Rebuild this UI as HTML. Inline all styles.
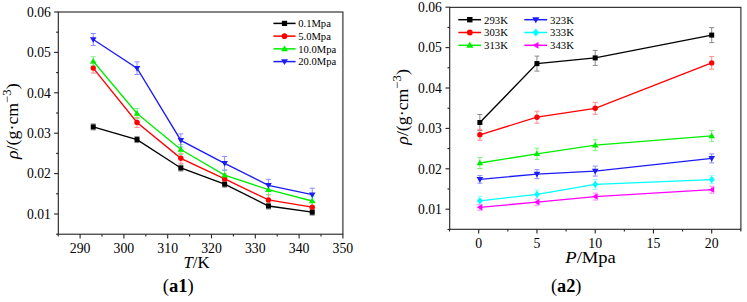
<!DOCTYPE html>
<html><head><meta charset="utf-8"><style>
html,body{margin:0;padding:0;background:#fff;}
body{width:747px;height:302px;overflow:hidden;}
svg{display:block;font-family:"Liberation Serif", serif;}
</style></head><body>
<svg width="747" height="302" viewBox="0 0 747 302">
<rect width="747" height="302" fill="#fff"/>
<rect x="58.3" y="12" width="284.6" height="222.2" fill="none" stroke="#222" stroke-width="1.1"/><path d="M54.1 214H58.3" stroke="#222" stroke-width="1.1"/><path d="M54.1 173.6H58.3" stroke="#222" stroke-width="1.1"/><path d="M54.1 133.2H58.3" stroke="#222" stroke-width="1.1"/><path d="M54.1 92.8H58.3" stroke="#222" stroke-width="1.1"/><path d="M54.1 52.4H58.3" stroke="#222" stroke-width="1.1"/><path d="M54.1 12H58.3" stroke="#222" stroke-width="1.1"/><path d="M56.1 234.2H58.3" stroke="#222" stroke-width="1.1"/><path d="M56.1 193.8H58.3" stroke="#222" stroke-width="1.1"/><path d="M56.1 153.4H58.3" stroke="#222" stroke-width="1.1"/><path d="M56.1 113H58.3" stroke="#222" stroke-width="1.1"/><path d="M56.1 72.6H58.3" stroke="#222" stroke-width="1.1"/><path d="M56.1 32.2H58.3" stroke="#222" stroke-width="1.1"/><path d="M80.1 234.2V238.4" stroke="#222" stroke-width="1.1"/><path d="M123.9 234.2V238.4" stroke="#222" stroke-width="1.1"/><path d="M167.7 234.2V238.4" stroke="#222" stroke-width="1.1"/><path d="M211.5 234.2V238.4" stroke="#222" stroke-width="1.1"/><path d="M255.3 234.2V238.4" stroke="#222" stroke-width="1.1"/><path d="M299.1 234.2V238.4" stroke="#222" stroke-width="1.1"/><path d="M342.9 234.2V238.4" stroke="#222" stroke-width="1.1"/><path d="M58.2 234.2V236.4" stroke="#222" stroke-width="1.1"/><path d="M102 234.2V236.4" stroke="#222" stroke-width="1.1"/><path d="M145.8 234.2V236.4" stroke="#222" stroke-width="1.1"/><path d="M189.6 234.2V236.4" stroke="#222" stroke-width="1.1"/><path d="M233.4 234.2V236.4" stroke="#222" stroke-width="1.1"/><path d="M277.2 234.2V236.4" stroke="#222" stroke-width="1.1"/><path d="M321 234.2V236.4" stroke="#222" stroke-width="1.1"/>
<path d="M93.24 123.9V129.9M90.74 123.9H95.74M90.74 129.9H95.74" stroke="#8a8a8a" stroke-width="1" fill="none"/><path d="M137.04 136.6V142.6M134.54 136.6H139.54M134.54 142.6H139.54" stroke="#8a8a8a" stroke-width="1" fill="none"/><path d="M180.84 165V171M178.34 165H183.34M178.34 171H183.34" stroke="#8a8a8a" stroke-width="1" fill="none"/><path d="M224.64 181.2V187.2M222.14 181.2H227.14M222.14 187.2H227.14" stroke="#8a8a8a" stroke-width="1" fill="none"/><path d="M268.44 203V209M265.94 203H270.94M265.94 209H270.94" stroke="#8a8a8a" stroke-width="1" fill="none"/><path d="M312.24 209.2V215.2M309.74 209.2H314.74M309.74 215.2H314.74" stroke="#8a8a8a" stroke-width="1" fill="none"/>
<path d="M93.24 63.1V73.1M90.74 63.1H95.74M90.74 73.1H95.74" stroke="#ff8c8c" stroke-width="1" fill="none"/><path d="M137.04 117.4V127.4M134.54 117.4H139.54M134.54 127.4H139.54" stroke="#ff8c8c" stroke-width="1" fill="none"/><path d="M180.84 153.3V163.3M178.34 153.3H183.34M178.34 163.3H183.34" stroke="#ff8c8c" stroke-width="1" fill="none"/><path d="M224.64 173.9V183.9M222.14 173.9H227.14M222.14 183.9H227.14" stroke="#ff8c8c" stroke-width="1" fill="none"/><path d="M268.44 194.9V204.9M265.94 194.9H270.94M265.94 204.9H270.94" stroke="#ff8c8c" stroke-width="1" fill="none"/><path d="M312.24 202.2V212.2M309.74 202.2H314.74M309.74 212.2H314.74" stroke="#ff8c8c" stroke-width="1" fill="none"/>
<path d="M93.24 56.8V65.8M90.74 56.8H95.74M90.74 65.8H95.74" stroke="#7cef7c" stroke-width="1" fill="none"/><path d="M137.04 108.5V118.5M134.54 108.5H139.54M134.54 118.5H139.54" stroke="#7cef7c" stroke-width="1" fill="none"/><path d="M180.84 144.5V154.5M178.34 144.5H183.34M178.34 154.5H183.34" stroke="#7cef7c" stroke-width="1" fill="none"/><path d="M224.64 170.2V180.2M222.14 170.2H227.14M222.14 180.2H227.14" stroke="#7cef7c" stroke-width="1" fill="none"/><path d="M268.44 184.6V194.6M265.94 184.6H270.94M265.94 194.6H270.94" stroke="#7cef7c" stroke-width="1" fill="none"/><path d="M312.24 196V206M309.74 196H314.74M309.74 206H314.74" stroke="#7cef7c" stroke-width="1" fill="none"/>
<path d="M93.24 33.5V45.5M90.74 33.5H95.74M90.74 45.5H95.74" stroke="#8c8cff" stroke-width="1" fill="none"/><path d="M137.04 61.9V74.5M134.54 61.9H139.54M134.54 74.5H139.54" stroke="#8c8cff" stroke-width="1" fill="none"/><path d="M180.84 133.9V146.9M178.34 133.9H183.34M178.34 146.9H183.34" stroke="#8c8cff" stroke-width="1" fill="none"/><path d="M224.64 156.5V170.1M222.14 156.5H227.14M222.14 170.1H227.14" stroke="#8c8cff" stroke-width="1" fill="none"/><path d="M268.44 179.3V191.3M265.94 179.3H270.94M265.94 191.3H270.94" stroke="#8c8cff" stroke-width="1" fill="none"/><path d="M312.24 188.2V201.2M309.74 188.2H314.74M309.74 201.2H314.74" stroke="#8c8cff" stroke-width="1" fill="none"/>
<polyline points="93.24,126.9 137.04,139.6 180.84,168 224.64,184.2 268.44,206 312.24,212.2" stroke="#000000" stroke-width="1.35" fill="none"/>
<polyline points="93.24,68.1 137.04,122.4 180.84,158.3 224.64,178.9 268.44,199.9 312.24,207.2" stroke="#ff0000" stroke-width="1.35" fill="none"/>
<polyline points="93.24,61.3 137.04,113.5 180.84,149.5 224.64,175.2 268.44,189.6 312.24,201" stroke="#00ee00" stroke-width="1.35" fill="none"/>
<polyline points="93.24,39.5 137.04,68.2 180.84,140.4 224.64,163.3 268.44,185.3 312.24,194.7" stroke="#1c1cf6" stroke-width="1.35" fill="none"/>
<rect x="90.74" y="124.4" width="5" height="5" fill="#000000"/><rect x="134.54" y="137.1" width="5" height="5" fill="#000000"/><rect x="178.34" y="165.5" width="5" height="5" fill="#000000"/><rect x="222.14" y="181.7" width="5" height="5" fill="#000000"/><rect x="265.94" y="203.5" width="5" height="5" fill="#000000"/><rect x="309.74" y="209.7" width="5" height="5" fill="#000000"/>
<circle cx="93.24" cy="68.1" r="2.7" fill="#ff0000"/><circle cx="137.04" cy="122.4" r="2.7" fill="#ff0000"/><circle cx="180.84" cy="158.3" r="2.7" fill="#ff0000"/><circle cx="224.64" cy="178.9" r="2.7" fill="#ff0000"/><circle cx="268.44" cy="199.9" r="2.7" fill="#ff0000"/><circle cx="312.24" cy="207.2" r="2.7" fill="#ff0000"/>
<path d="M93.24 58L96.54 63.6L89.94 63.6Z" fill="#00ee00"/><path d="M137.04 110.2L140.34 115.8L133.74 115.8Z" fill="#00ee00"/><path d="M180.84 146.2L184.14 151.8L177.54 151.8Z" fill="#00ee00"/><path d="M224.64 171.9L227.94 177.5L221.34 177.5Z" fill="#00ee00"/><path d="M268.44 186.3L271.74 191.9L265.14 191.9Z" fill="#00ee00"/><path d="M312.24 197.7L315.54 203.3L308.94 203.3Z" fill="#00ee00"/>
<path d="M89.94 37.2L96.54 37.2L93.24 42.8Z" fill="#1c1cf6"/><path d="M133.74 65.9L140.34 65.9L137.04 71.5Z" fill="#1c1cf6"/><path d="M177.54 138.1L184.14 138.1L180.84 143.7Z" fill="#1c1cf6"/><path d="M221.34 161L227.94 161L224.64 166.6Z" fill="#1c1cf6"/><path d="M265.14 183L271.74 183L268.44 188.6Z" fill="#1c1cf6"/><path d="M308.94 192.4L315.54 192.4L312.24 198Z" fill="#1c1cf6"/>
<text transform="translate(50.8 218.75) scale(1 1.03)" font-size="13.6" text-anchor="end">0.01</text>
<text transform="translate(50.8 178.35) scale(1 1.03)" font-size="13.6" text-anchor="end">0.02</text>
<text transform="translate(50.8 137.95) scale(1 1.03)" font-size="13.6" text-anchor="end">0.03</text>
<text transform="translate(50.8 97.55) scale(1 1.03)" font-size="13.6" text-anchor="end">0.04</text>
<text transform="translate(50.8 57.15) scale(1 1.03)" font-size="13.6" text-anchor="end">0.05</text>
<text transform="translate(50.8 16.75) scale(1 1.03)" font-size="13.6" text-anchor="end">0.06</text>
<text transform="translate(80.1 253.1) scale(1 1.07)" font-size="13.8" text-anchor="middle">290</text>
<text transform="translate(123.9 253.1) scale(1 1.07)" font-size="13.8" text-anchor="middle">300</text>
<text transform="translate(167.7 253.1) scale(1 1.07)" font-size="13.8" text-anchor="middle">310</text>
<text transform="translate(211.5 253.1) scale(1 1.07)" font-size="13.8" text-anchor="middle">320</text>
<text transform="translate(255.3 253.1) scale(1 1.07)" font-size="13.8" text-anchor="middle">330</text>
<text transform="translate(299.1 253.1) scale(1 1.07)" font-size="13.8" text-anchor="middle">340</text>
<text transform="translate(342.9 253.1) scale(1 1.07)" font-size="13.8" text-anchor="middle">350</text>
<path d="M273.4 23.4H295.6" stroke="#000000" stroke-width="1.5"/>
<rect x="281.9" y="20.8" width="5.2" height="5.2" fill="#000000"/>
<text x="298.2" y="27.3" font-size="10.6" text-anchor="start" >0.1Mpa</text>
<path d="M273.4 36.13H295.6" stroke="#ff0000" stroke-width="1.5"/>
<circle cx="284.5" cy="36.13" r="2.8" fill="#ff0000"/>
<text x="298.2" y="40.03" font-size="10.6" text-anchor="start" >5.0Mpa</text>
<path d="M273.4 48.86H295.6" stroke="#00ee00" stroke-width="1.5"/>
<path d="M284.5 45.43L287.93 51.25L281.07 51.25Z" fill="#00ee00"/>
<text x="298.2" y="52.76" font-size="10.6" text-anchor="start" >10.0Mpa</text>
<path d="M273.4 61.59H295.6" stroke="#1c1cf6" stroke-width="1.5"/>
<path d="M281.07 59.2L287.93 59.2L284.5 65.02Z" fill="#1c1cf6"/>
<text x="298.2" y="65.49" font-size="10.6" text-anchor="start" >20.0Mpa</text>
<text x="196.5" y="268.2" font-size="16.3" text-anchor="middle"  textLength="26" lengthAdjust="spacingAndGlyphs"><tspan font-style="italic">T</tspan>/K</text>
<text x="178.2" y="292.2" font-size="18" text-anchor="middle"  textLength="31" lengthAdjust="spacingAndGlyphs">(<tspan font-weight="bold">a1</tspan>)</text>
<text transform="translate(17.5 121.2) rotate(-90)" font-size="17" text-anchor="middle" textLength="75.6" lengthAdjust="spacingAndGlyphs"><tspan font-style="italic">ρ</tspan>/(g·cm<tspan dy="-6.5" font-size="12">−3</tspan><tspan dy="6.5">)</tspan></text>
<rect x="449.7" y="7.35" width="291.2" height="221.95" fill="none" stroke="#222" stroke-width="1.1"/><path d="M445.5 209.2H449.7" stroke="#222" stroke-width="1.1"/><path d="M445.5 168.8H449.7" stroke="#222" stroke-width="1.1"/><path d="M445.5 128.4H449.7" stroke="#222" stroke-width="1.1"/><path d="M445.5 88H449.7" stroke="#222" stroke-width="1.1"/><path d="M445.5 47.6H449.7" stroke="#222" stroke-width="1.1"/><path d="M445.5 7.2H449.7" stroke="#222" stroke-width="1.1"/><path d="M447.5 229.4H449.7" stroke="#222" stroke-width="1.1"/><path d="M447.5 189H449.7" stroke="#222" stroke-width="1.1"/><path d="M447.5 148.6H449.7" stroke="#222" stroke-width="1.1"/><path d="M447.5 108.2H449.7" stroke="#222" stroke-width="1.1"/><path d="M447.5 67.8H449.7" stroke="#222" stroke-width="1.1"/><path d="M447.5 27.4H449.7" stroke="#222" stroke-width="1.1"/><path d="M478.7 229.3V233.5" stroke="#222" stroke-width="1.1"/><path d="M536.95 229.3V233.5" stroke="#222" stroke-width="1.1"/><path d="M595.2 229.3V233.5" stroke="#222" stroke-width="1.1"/><path d="M653.45 229.3V233.5" stroke="#222" stroke-width="1.1"/><path d="M711.7 229.3V233.5" stroke="#222" stroke-width="1.1"/><path d="M449.57 229.3V231.5" stroke="#222" stroke-width="1.1"/><path d="M507.82 229.3V231.5" stroke="#222" stroke-width="1.1"/><path d="M566.08 229.3V231.5" stroke="#222" stroke-width="1.1"/><path d="M624.33 229.3V231.5" stroke="#222" stroke-width="1.1"/><path d="M682.58 229.3V231.5" stroke="#222" stroke-width="1.1"/><path d="M740.83 229.3V231.5" stroke="#222" stroke-width="1.1"/>
<path d="M479.87 114.5V130.5M477.37 114.5H482.37M477.37 130.5H482.37" stroke="#8a8a8a" stroke-width="1" fill="none"/><path d="M536.95 56.1V71.1M534.45 56.1H539.45M534.45 71.1H539.45" stroke="#8a8a8a" stroke-width="1" fill="none"/><path d="M595.2 50.4V65.4M592.7 50.4H597.7M592.7 65.4H597.7" stroke="#8a8a8a" stroke-width="1" fill="none"/><path d="M711.7 27.6V42.6M709.2 27.6H714.2M709.2 42.6H714.2" stroke="#8a8a8a" stroke-width="1" fill="none"/>
<path d="M479.87 129.3V140.3M477.37 129.3H482.37M477.37 140.3H482.37" stroke="#ff8c8c" stroke-width="1" fill="none"/><path d="M536.95 111.2V123.2M534.45 111.2H539.45M534.45 123.2H539.45" stroke="#ff8c8c" stroke-width="1" fill="none"/><path d="M595.2 102.3V114.3M592.7 102.3H597.7M592.7 114.3H597.7" stroke="#ff8c8c" stroke-width="1" fill="none"/><path d="M711.7 56.6V69.2M709.2 56.6H714.2M709.2 69.2H714.2" stroke="#ff8c8c" stroke-width="1" fill="none"/>
<path d="M479.87 157.5V168.5M477.37 157.5H482.37M477.37 168.5H482.37" stroke="#7cef7c" stroke-width="1" fill="none"/><path d="M536.95 148.2V159.4M534.45 148.2H539.45M534.45 159.4H539.45" stroke="#7cef7c" stroke-width="1" fill="none"/><path d="M595.2 139.7V150.7M592.7 139.7H597.7M592.7 150.7H597.7" stroke="#7cef7c" stroke-width="1" fill="none"/><path d="M711.7 130.4V141.4M709.2 130.4H714.2M709.2 141.4H714.2" stroke="#7cef7c" stroke-width="1" fill="none"/>
<path d="M479.87 175.6V183.2M477.37 175.6H482.37M477.37 183.2H482.37" stroke="#8c8cff" stroke-width="1" fill="none"/><path d="M536.95 169.6V178.6M534.45 169.6H539.45M534.45 178.6H539.45" stroke="#8c8cff" stroke-width="1" fill="none"/><path d="M595.2 166.1V176.1M592.7 166.1H597.7M592.7 176.1H597.7" stroke="#8c8cff" stroke-width="1" fill="none"/><path d="M711.7 153.9V162.9M709.2 153.9H714.2M709.2 162.9H714.2" stroke="#8c8cff" stroke-width="1" fill="none"/>
<path d="M479.87 196.3V205.3M477.37 196.3H482.37M477.37 205.3H482.37" stroke="#8cffff" stroke-width="1" fill="none"/><path d="M536.95 189.9V198.9M534.45 189.9H539.45M534.45 198.9H539.45" stroke="#8cffff" stroke-width="1" fill="none"/><path d="M595.2 179.4V189.4M592.7 179.4H597.7M592.7 189.4H597.7" stroke="#8cffff" stroke-width="1" fill="none"/><path d="M711.7 175.6V183.6M709.2 175.6H714.2M709.2 183.6H714.2" stroke="#8cffff" stroke-width="1" fill="none"/>
<path d="M479.87 204.3V210.3M477.37 204.3H482.37M477.37 210.3H482.37" stroke="#ff8cff" stroke-width="1" fill="none"/><path d="M536.95 199.2V205.2M534.45 199.2H539.45M534.45 205.2H539.45" stroke="#ff8cff" stroke-width="1" fill="none"/><path d="M595.2 193.1V200.1M592.7 193.1H597.7M592.7 200.1H597.7" stroke="#ff8cff" stroke-width="1" fill="none"/><path d="M711.7 186.2V193.2M709.2 186.2H714.2M709.2 193.2H714.2" stroke="#ff8cff" stroke-width="1" fill="none"/>
<polyline points="479.87,122.5 536.95,63.6 595.2,57.9 711.7,35.1" stroke="#000000" stroke-width="1.35" fill="none"/>
<polyline points="479.87,134.8 536.95,117.2 595.2,108.3 711.7,62.9" stroke="#ff0000" stroke-width="1.35" fill="none"/>
<polyline points="479.87,163 536.95,153.8 595.2,145.2 711.7,135.9" stroke="#00ee00" stroke-width="1.35" fill="none"/>
<polyline points="479.87,179.4 536.95,174.1 595.2,171.1 711.7,158.4" stroke="#1c1cf6" stroke-width="1.35" fill="none"/>
<polyline points="479.87,200.8 536.95,194.4 595.2,184.4 711.7,179.6" stroke="#00ffff" stroke-width="1.35" fill="none"/>
<polyline points="479.87,207.3 536.95,202.2 595.2,196.6 711.7,189.7" stroke="#ff00ff" stroke-width="1.35" fill="none"/>
<rect x="477.37" y="120" width="5" height="5" fill="#000000"/><rect x="534.45" y="61.1" width="5" height="5" fill="#000000"/><rect x="592.7" y="55.4" width="5" height="5" fill="#000000"/><rect x="709.2" y="32.6" width="5" height="5" fill="#000000"/>
<circle cx="479.87" cy="134.8" r="2.7" fill="#ff0000"/><circle cx="536.95" cy="117.2" r="2.7" fill="#ff0000"/><circle cx="595.2" cy="108.3" r="2.7" fill="#ff0000"/><circle cx="711.7" cy="62.9" r="2.7" fill="#ff0000"/>
<path d="M479.87 159.7L483.17 165.3L476.56 165.3Z" fill="#00ee00"/><path d="M536.95 150.5L540.25 156.1L533.65 156.1Z" fill="#00ee00"/><path d="M595.2 141.9L598.5 147.5L591.9 147.5Z" fill="#00ee00"/><path d="M711.7 132.6L715 138.2L708.4 138.2Z" fill="#00ee00"/>
<path d="M476.56 177.1L483.17 177.1L479.87 182.7Z" fill="#1c1cf6"/><path d="M533.65 171.8L540.25 171.8L536.95 177.4Z" fill="#1c1cf6"/><path d="M591.9 168.8L598.5 168.8L595.2 174.4Z" fill="#1c1cf6"/><path d="M708.4 156.1L715 156.1L711.7 161.7Z" fill="#1c1cf6"/>
<path d="M479.87 197.2L482.87 200.8L479.87 204.4L476.87 200.8Z" fill="#00ffff"/><path d="M536.95 190.8L539.95 194.4L536.95 198L533.95 194.4Z" fill="#00ffff"/><path d="M595.2 180.8L598.2 184.4L595.2 188L592.2 184.4Z" fill="#00ffff"/><path d="M711.7 176L714.7 179.6L711.7 183.2L708.7 179.6Z" fill="#00ffff"/>
<path d="M476.76 207.3L482.37 204.2L482.37 210.4Z" fill="#ff00ff"/><path d="M533.85 202.2L539.45 199.1L539.45 205.3Z" fill="#ff00ff"/><path d="M592.1 196.6L597.7 193.5L597.7 199.7Z" fill="#ff00ff"/><path d="M708.6 189.7L714.2 186.6L714.2 192.8Z" fill="#ff00ff"/>
<text transform="translate(441.9 213.95) scale(1 1.03)" font-size="13.6" text-anchor="end">0.01</text>
<text transform="translate(441.9 173.55) scale(1 1.03)" font-size="13.6" text-anchor="end">0.02</text>
<text transform="translate(441.9 133.15) scale(1 1.03)" font-size="13.6" text-anchor="end">0.03</text>
<text transform="translate(441.9 92.75) scale(1 1.03)" font-size="13.6" text-anchor="end">0.04</text>
<text transform="translate(441.9 52.35) scale(1 1.03)" font-size="13.6" text-anchor="end">0.05</text>
<text transform="translate(441.9 11.95) scale(1 1.03)" font-size="13.6" text-anchor="end">0.06</text>
<text transform="translate(478.7 248.1) scale(1 1.07)" font-size="13.8" text-anchor="middle">0</text>
<text transform="translate(536.95 248.1) scale(1 1.07)" font-size="13.8" text-anchor="middle">5</text>
<text transform="translate(595.2 248.1) scale(1 1.07)" font-size="13.8" text-anchor="middle">10</text>
<text transform="translate(653.45 248.1) scale(1 1.07)" font-size="13.8" text-anchor="middle">15</text>
<text transform="translate(711.7 248.1) scale(1 1.07)" font-size="13.8" text-anchor="middle">20</text>
<path d="M458.3 19.7H481.1" stroke="#000000" stroke-width="1.5"/>
<rect x="467.1" y="17" width="5.4" height="5.4" fill="#000000"/>
<text x="484.1" y="23.6" font-size="10.7" text-anchor="start" >293K</text>
<path d="M458.3 32.5H481.1" stroke="#ff0000" stroke-width="1.5"/>
<circle cx="469.8" cy="32.5" r="2.9" fill="#ff0000"/>
<text x="484.1" y="36.4" font-size="10.7" text-anchor="start" >303K</text>
<path d="M458.3 45.3H481.1" stroke="#00ee00" stroke-width="1.5"/>
<path d="M469.8 41.74L473.36 47.78L466.24 47.78Z" fill="#00ee00"/>
<text x="484.1" y="49.2" font-size="10.7" text-anchor="start" >313K</text>
<path d="M524.3 19.7H547.1" stroke="#1c1cf6" stroke-width="1.5"/>
<path d="M532.24 17.22L539.36 17.22L535.8 23.26Z" fill="#1c1cf6"/>
<text x="550.1" y="23.6" font-size="10.7" text-anchor="start" >323K</text>
<path d="M524.3 32.5H547.1" stroke="#00ffff" stroke-width="1.5"/>
<path d="M535.8 28.61L539.04 32.5L535.8 36.39L532.56 32.5Z" fill="#00ffff"/>
<text x="550.1" y="36.4" font-size="10.7" text-anchor="start" >333K</text>
<path d="M524.3 45.3H547.1" stroke="#ff00ff" stroke-width="1.5"/>
<path d="M532.45 45.3L538.5 41.95L538.5 48.65Z" fill="#ff00ff"/>
<text x="550.1" y="49.2" font-size="10.7" text-anchor="start" >343K</text>
<text x="590.6" y="263.2" font-size="16.3" text-anchor="middle"  textLength="50.5" lengthAdjust="spacingAndGlyphs"><tspan font-style="italic">P</tspan>/Mpa</text>
<text x="566.2" y="292" font-size="18" text-anchor="middle"  textLength="30.5" lengthAdjust="spacingAndGlyphs">(<tspan font-weight="bold">a2</tspan>)</text>
<text transform="translate(407.5 106.9) rotate(-90)" font-size="17" text-anchor="middle" textLength="75.6" lengthAdjust="spacingAndGlyphs"><tspan font-style="italic">ρ</tspan>/(g·cm<tspan dy="-6.5" font-size="12">−3</tspan><tspan dy="6.5">)</tspan></text>
</svg>
</body></html>
